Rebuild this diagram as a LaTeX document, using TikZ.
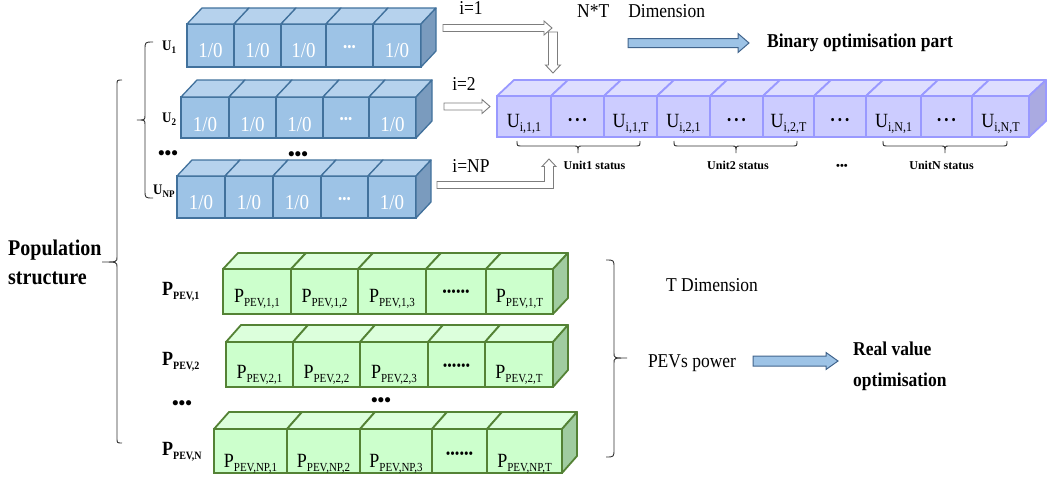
\documentclass[tikz,border=0pt]{standalone}
\usepackage{fontspec}
\usepackage{graphicx}
\setmainfont{Liberation Serif}
\usetikzlibrary{calc}
\definecolor{bfront}{RGB}{157,195,230}
\definecolor{btop}{RGB}{182,210,237}
\definecolor{bside}{RGB}{122,155,190}
\definecolor{bedge}{RGB}{65,113,156}
\definecolor{pfront}{RGB}{204,204,255}
\definecolor{ptop}{RGB}{222,222,255}
\definecolor{pside}{RGB}{170,170,225}
\definecolor{pedge}{RGB}{153,153,255}
\definecolor{gfront}{RGB}{204,255,204}
\definecolor{gtop}{RGB}{220,255,220}
\definecolor{gside}{RGB}{160,204,160}
\definecolor{gedge}{RGB}{84,130,53}
\definecolor{harrow}{RGB}{125,125,125}
\definecolor{barrowfill}{RGB}{157,195,230}
\definecolor{barrowedge}{RGB}{65,100,140}
\newcommand{\fsz}[1]{\fontsize{#1}{#1}\selectfont}
\newcommand{\vs}[1]{\scalebox{1}[1.12]{#1}}
\newcommand{\subtx}[2]{\raisebox{-0.22em}{\fsz{#1}#2}}
% cube cell: family, name, xa, xb, ytop, ybot, text, text height (baseline offset*2)
\newcommand{\cubecell}[8]{\node[#1cell,minimum width={(#4-#3)*1pt},minimum height={(#6-#5)*1pt},text height=#8pt,text depth=0pt] (#2) at ({(#3+#4)/2},{(#5+#6)/2}) {\vs{#7}};}
\newcommand{\cubetop}[4]{\filldraw[#1topface] (#2.north west) -- ++(#3,-#4) -- ([shift={(#3,-#4)}]#2.north east) -- (#2.north east) -- cycle;}
\newcommand{\cubeside}[4]{\filldraw[#1sideface] (#2.north east) -- ++(#3,-#4) -- ([shift={(#3,-#4)}]#2.south east) -- (#2.south east) -- cycle;}
% straight block arrow: style, start, end, half shaft, half head, head length
\newcommand{\blockarrow}[6]{\coordinate (tmpH) at ($(#3)!#6pt!(#2)$);
 \filldraw[#1] ($(#2)!#4pt!90:(#3)$) -- ($(tmpH)!#4pt!90:(#3)$) -- ($(tmpH)!#5pt!90:(#3)$) -- (#3) -- ($(tmpH)!#5pt!-90:(#3)$) -- ($(tmpH)!#4pt!-90:(#3)$) -- ($(#2)!#4pt!-90:(#3)$) -- cycle;}
% braces
\newcommand{\mybraceL}[6]{\draw[bracestyle] (#1+#6,#2) .. controls (#1,#2) .. (#1,#2+#6) -- (#1,#4-5) .. controls (#1,#4) .. (#5,#4) .. controls (#1,#4) .. (#1,#4+5) -- (#1,#3-#6) .. controls (#1,#3) .. (#1+#6,#3);}
\newcommand{\mybraceR}[6]{\draw[bracestyle] (#1-#6,#2) .. controls (#1,#2) .. (#1,#2+#6) -- (#1,#4-5) .. controls (#1,#4) .. (#5,#4) .. controls (#1,#4) .. (#1,#4+5) -- (#1,#3-#6) .. controls (#1,#3) .. (#1-#6,#3);}
\newcommand{\mybraceD}[6]{\draw[bracestyle] (#1,#3-#6) .. controls (#1,#3) .. (#1+#6,#3) -- (#4-4,#3) .. controls (#4,#3) .. (#4,#5) .. controls (#4,#3) .. (#4+4,#3) -- (#2-#6,#3) .. controls (#2,#3) .. (#2,#3-#6);}
\begin{document}
\begin{tikzpicture}[x=1pt,y=-1pt,
  bcell/.style={rectangle,draw=bedge,fill=bfront,line width=1.3pt,inner sep=0pt,outer sep=0pt,text=white,font=\fsz{19}},
  btopface/.style={draw=bedge,fill=btop,line width=1.3pt,line join=round},
  bsideface/.style={draw=bedge,fill=bside,line width=1.3pt,line join=round},
  pcell/.style={rectangle,draw=pedge,fill=pfront,line width=1.8pt,inner sep=0pt,outer sep=0pt,text=black,font=\fsz{18}},
  ptopface/.style={draw=pedge,fill=ptop,line width=1.8pt,line join=round},
  psideface/.style={draw=pedge,fill=pside,line width=1.8pt,line join=round},
  gcell/.style={rectangle,draw=gedge,fill=gfront,line width=1.8pt,inner sep=0pt,outer sep=0pt,text=black,font=\fsz{18}},
  gtopface/.style={draw=gedge,fill=gtop,line width=1.8pt,line join=round},
  gsideface/.style={draw=gedge,fill=gside,line width=1.8pt,line join=round},
  hollow/.style={draw=harrow,fill=white,line width=0.9pt,line join=miter},
  bluearrow/.style={draw=barrowedge,fill=barrowfill,line width=1pt,line join=miter},
  bracestyle/.style={draw=black!80,line width=0.9pt},
  txt/.style={font=\fsz{17.5},inner sep=0pt},
  txtb/.style={font=\fsz{17.5}\bfseries,inner sep=0pt},
  lblU/.style={font=\fsz{13}\bfseries,inner sep=0pt,anchor=base west},
  lblP/.style={font=\fsz{18}\bfseries,inner sep=0pt,anchor=base west},
  unitlbl/.style={font=\fsz{12}\bfseries,inner sep=0pt,anchor=base},
  bigdots/.style={font=\fsz{19}\bfseries,inner sep=0pt},
]
\useasboundingbox (0,0) rectangle (1047,479);

% ---------- blue rows ----------
\cubecell{b}{b11}{187}{234}{24}{67}{1/0}{23.4}
\cubecell{b}{b12}{234}{281}{24}{67}{1/0}{23.4}
\cubecell{b}{b13}{281}{326}{24}{67}{1/0}{23.4}
\cubecell{b}{b14}{326}{373}{24}{67}{\fsz{12}•••}{12.8}
\cubecell{b}{b15}{373}{421}{24}{67}{1/0}{23.4}
\foreach \n in {b11,b12,b13,b14,b15} {\cubetop{b}{\n}{15}{16}}
\cubeside{b}{b15}{15}{16}

\cubecell{b}{b21}{181}{229}{97}{138}{1/0}{27.4}
\cubecell{b}{b22}{229}{276}{97}{138}{1/0}{27.4}
\cubecell{b}{b23}{276}{323}{97}{138}{1/0}{27.4}
\cubecell{b}{b24}{323}{369}{97}{138}{\fsz{12}•••}{11}
\cubecell{b}{b25}{369}{416}{97}{138}{1/0}{27.4}
\foreach \n in {b21,b22,b23,b24,b25} {\cubetop{b}{\n}{16}{17}}
\cubeside{b}{b25}{16}{17}

\cubecell{b}{b31}{177}{225}{176}{218}{1/0}{24.4}
\cubecell{b}{b32}{225}{273}{176}{218}{1/0}{24.4}
\cubecell{b}{b33}{273}{321}{176}{218}{1/0}{24.4}
\cubecell{b}{b34}{321}{368}{176}{218}{\fsz{12}•••}{12}
\cubecell{b}{b35}{368}{416}{176}{218}{1/0}{24.4}
\foreach \n in {b31,b32,b33,b34,b35} {\cubetop{b}{\n}{15}{16}}
\cubeside{b}{b35}{15}{16}

% ---------- purple row ----------
\cubecell{p}{p1}{497}{551}{96}{137}{U\subtx{12}{i,1,1}}{21.3}
\cubecell{p}{p2}{551}{604}{96}{137}{\fsz{12}•\hspace{3pt}•\hspace{3pt}•}{15.8}
\cubecell{p}{p3}{604}{657}{96}{137}{U\subtx{12}{i,1,T}}{21.3}
\cubecell{p}{p4}{657}{710}{96}{137}{U\subtx{12}{i,2,1}}{21.3}
\cubecell{p}{p5}{710}{763}{96}{137}{\fsz{12}•\hspace{3pt}•\hspace{3pt}•}{15.8}
\cubecell{p}{p6}{763}{814}{96}{137}{U\subtx{12}{i,2,T}}{21.3}
\cubecell{p}{p7}{814}{866}{96}{137}{\fsz{12}•\hspace{3pt}•\hspace{3pt}•}{15.8}
\cubecell{p}{p8}{866}{921}{96}{137}{U\subtx{12}{i,N,1}}{21.3}
\cubecell{p}{p9}{921}{972}{96}{137}{\fsz{12}•\hspace{3pt}•\hspace{3pt}•}{15.8}
\cubecell{p}{p10}{972}{1029}{96}{137}{U\subtx{12}{i,N,T}}{21.3}
\foreach \n in {p1,p2,p3,p4,p5,p6,p7,p8,p9,p10} {\cubetop{p}{\n}{17}{16}}
\cubeside{p}{p10}{17}{16}

% ---------- green rows ----------
\cubecell{g}{g11}{223}{291}{269}{314}{P\subtx{11}{PEV,1,1}}{21}
\cubecell{g}{g12}{291}{358}{269}{314}{P\subtx{11}{PEV,1,2}}{21}
\cubecell{g}{g13}{358}{426}{269}{314}{P\subtx{11}{PEV,1,3}}{21}
\cubecell{g}{g14}{426}{486}{269}{314}{\fsz{13}••••••}{10.2}
\cubecell{g}{g15}{486}{553}{269}{314}{P\subtx{11}{PEV,1,T}}{21}
\foreach \n in {g11,g12,g13,g14,g15} {\cubetop{g}{\n}{15}{16}}
\cubeside{g}{g15}{15}{16}

\cubecell{g}{g21}{226}{293}{342}{387}{P\subtx{11}{PEV,2,1}}{27}
\cubecell{g}{g22}{293}{360}{342}{387}{P\subtx{11}{PEV,2,2}}{27}
\cubecell{g}{g23}{360}{428}{342}{387}{P\subtx{11}{PEV,2,3}}{27}
\cubecell{g}{g24}{428}{485}{342}{387}{\fsz{13}••••••}{12}
\cubecell{g}{g25}{485}{553}{342}{387}{P\subtx{11}{PEV,2,T}}{27}
\foreach \n in {g21,g22,g23,g24,g25} {\cubetop{g}{\n}{15}{17}}
\cubeside{g}{g25}{15}{17}

\cubecell{g}{g31}{214}{287}{429}{473}{P\subtx{11}{PEV,NP,1}}{32}
\cubecell{g}{g32}{287}{360}{429}{473}{P\subtx{11}{PEV,NP,2}}{32}
\cubecell{g}{g33}{360}{432}{429}{473}{P\subtx{11}{PEV,NP,3}}{32}
\cubecell{g}{g34}{432}{487}{429}{473}{\fsz{13}••••••}{14}
\cubecell{g}{g35}{487}{562}{429}{473}{P\subtx{11}{PEV,NP,T}}{32}
\foreach \n in {g31,g32,g33,g34,g35} {\cubetop{g}{\n}{15}{17}}
\cubeside{g}{g35}{15}{17}

% ---------- hollow arrows ----------
\coordinate (a1s) at (443,28);
\coordinate (a1e) at (552,28);
\coordinate (a1vs) at (553,32);
\coordinate (a1ve) at (553,73);
\coordinate (a2s) at (444,106.5);
\coordinate (a2e) at (490,106.5);
\coordinate (a3s) at (437,185);
\coordinate (a3c) at (549,185);
\coordinate (a3e) at (549,159);
\blockarrow{hollow}{a1s}{a1e}{3.5}{7}{8}
\blockarrow{hollow}{a1vs}{a1ve}{4.5}{7.5}{8}
\blockarrow{hollow}{a2s}{a2e}{3.5}{7}{8}
\filldraw[hollow] ($(a3s)+(0,3.5)$) -- ($(a3c)+(4.5,3.5)$) -- ($(a3e)+(4.5,7.5)$) -- ($(a3e)+(7,7.5)$) -- (a3e) -- ($(a3e)+(-7,7.5)$) -- ($(a3e)+(-4.5,7.5)$) -- ($(a3c)+(-4.5,-3.5)$) -- ($(a3s)+(0,-3.5)$) -- cycle;

% ---------- blue block arrows ----------
\coordinate (ba1s) at (628,43);
\coordinate (ba1e) at (749,43);
\coordinate (ba2s) at (753,361);
\coordinate (ba2e) at (838,361);
\blockarrow{bluearrow}{ba1s}{ba1e}{4.5}{9.5}{11}
\blockarrow{bluearrow}{ba2s}{ba2e}{5}{8.5}{12}

% ---------- texts ----------
\node[txt,anchor=base] (li1) at (471,14.5) {\vs{i=1}};
\node[txt,anchor=base] (li2) at (464,90) {\vs{i=2}};
\node[txt,anchor=base] (linp) at (471,172) {\vs{i=NP}};
\node[txt,anchor=base west] (lnt) at (577,17.5) {\vs{N*T\hspace{19pt}Dimension}};
\node[txtb,anchor=base west] (lbin) at (767,47) {\vs{Binary optimisation part}};
\node[txt,anchor=base] (ltd) at (712,291) {\vs{T Dimension}};
\node[txt,anchor=base] (lpev) at (692,367) {\vs{PEVs power}};
\node[txtb,anchor=base west] (lreal) at (853,355) {\vs{Real value}};
\node[txtb,anchor=base west] (lopt) at (853,386) {\vs{optimisation}};
\node[font=\fsz{20}\bfseries,inner sep=0pt,anchor=base west] (lpop1) at (8,255) {\vs{Population}};
\node[font=\fsz{20}\bfseries,inner sep=0pt,anchor=base west] (lpop2) at (8,284) {\vs{structure}};

\node[lblU] (lu1) at (162,50) {\vs{U\subtx{9}{1}}};
\node[lblU] (lu2) at (162,122) {\vs{U\subtx{9}{2}}};
\node[lblU] (lunp) at (153,194.5) {\vs{U\subtx{9}{NP}}};
\node[lblP] (lp1) at (162,295) {\vs{P\subtx{10}{PEV,1}}};
\node[lblP] (lp2) at (162,365) {\vs{P\subtx{10}{PEV,2}}};
\node[lblP] (lpn) at (162,455) {\vs{P\subtx{10}{PEV,N}}};

\node[bigdots] (dl1) at (168,155) {•••};
\node[bigdots] (dm1) at (298,156) {•••};
\node[bigdots] (dl2) at (182,405) {•••};
\node[bigdots] (dm2) at (381,402) {•••};

\node[unitlbl] (un1) at (594.5,169.5) {Unit1 status};
\node[unitlbl] (un2) at (738,169.5) {Unit2 status};
\node[font=\fsz{11}\bfseries,inner sep=0pt] (und) at (842,167) {•••};
\node[unitlbl] (unn) at (941.5,169.5) {UnitN status};

% ---------- braces ----------
\mybraceL{117}{80}{443}{262}{102}{5}
\mybraceL{145}{42}{198}{120}{137}{8}
\mybraceR{614}{260}{457}{358}{627}{8}
\mybraceD{517}{640}{146}{578}{153}{5}
\mybraceD{674}{797}{146}{736}{153}{5}
\mybraceD{883}{1007}{146}{945}{153}{5}
\end{tikzpicture}
\end{document}
